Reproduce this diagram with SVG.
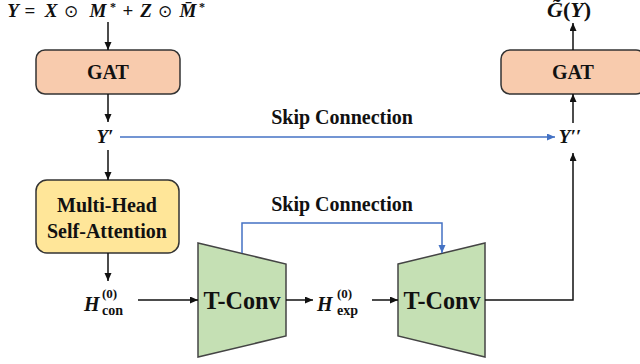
<svg xmlns="http://www.w3.org/2000/svg" width="640" height="364" viewBox="0 0 640 364">
<defs>
<style>
.lbl{font-family:"Liberation Serif","Times New Roman",serif;font-weight:bold;fill:#111;text-anchor:middle}
.math{font-family:"Liberation Serif","DejaVu Serif",serif;font-weight:bold;fill:#111}
.it{font-style:italic}
.op{font-family:"DejaVu Sans",sans-serif;font-weight:normal}
.box{stroke:#333;stroke-width:1.5}
.gat{fill:#F8CBAD}
.mhsa{fill:#FFE699}
.tc{fill:#C5E0B4;stroke:#444;stroke-width:1.5}
.ln{fill:none;stroke:#111;stroke-width:1.5}
.bl{fill:none;stroke:#4472C4;stroke-width:1.5}
</style>
<marker id="ak" markerUnits="userSpaceOnUse" markerWidth="9" markerHeight="8" refX="8" refY="3.5" orient="auto"><path d="M0,0 L8,3.5 L0,7 z" fill="#111"/></marker>
<marker id="ab" markerUnits="userSpaceOnUse" markerWidth="9" markerHeight="8" refX="8" refY="3.5" orient="auto"><path d="M0,0 L8,3.5 L0,7 z" fill="#4472C4"/></marker>
</defs>
<rect width="640" height="364" fill="#fff"/>

<g id="input">
<text class="math" y="17" font-size="19" text-anchor="middle"><tspan class="it" x="13">Y</tspan><tspan x="30">=</tspan><tspan class="it" x="51">X</tspan><tspan class="op" x="71" font-size="17">⊙</tspan><tspan class="it" x="98">M</tspan><tspan x="113" font-size="12" dy="-6">*</tspan><tspan x="128" dy="6">+</tspan><tspan class="it" x="146">Z</tspan><tspan class="op" x="165" font-size="17">⊙</tspan><tspan class="it" x="188">M̄</tspan><tspan x="202" font-size="12" dy="-6">*</tspan></text>
</g>

<g id="gat1">
<rect class="box gat" x="36" y="50" width="144" height="44" rx="9"/>
<text class="lbl" x="108" y="79" font-size="20">GAT</text>
</g>

<g id="yprime">
<text class="math it" x="105" y="143" font-size="19" text-anchor="middle">Y′</text>
</g>

<g id="mhsa">
<rect class="box mhsa" x="36" y="180" width="143" height="73" rx="11"/>
<text class="lbl" x="107" y="212" font-size="20">Multi-Head</text>
<text class="lbl" x="107" y="238" font-size="20">Self-Attention</text>
</g>

<g id="hcon">
<text class="math it" x="84" y="311" font-size="20">H</text>
<text class="math" x="102" y="298" font-size="13">(0)</text>
<text class="math" x="102" y="315" font-size="14">con</text>
</g>

<g id="tconv1">
<polygon class="tc" points="198,243 286,264 286,336 198,357"/>
<text class="lbl" x="242" y="309" font-size="25" textLength="77" lengthAdjust="spacingAndGlyphs">T-Conv</text>
</g>

<g id="hexp">
<text class="math it" x="317" y="311" font-size="20">H</text>
<text class="math" x="337" y="298" font-size="13">(0)</text>
<text class="math" x="337" y="315" font-size="14">exp</text>
</g>

<g id="tconv2">
<polygon class="tc" points="398,264 485,243 485,357 398,336"/>
<text class="lbl" x="442" y="309" font-size="25" textLength="77" lengthAdjust="spacingAndGlyphs">T-Conv</text>
</g>

<g id="ydouble">
<text class="math it" x="570" y="143" font-size="19" text-anchor="middle">Y′′</text>
</g>

<g id="gat2">
<rect class="box gat" x="501" y="50" width="144" height="44" rx="9"/>
<text class="lbl" x="573" y="79" font-size="20">GAT</text>
</g>

<g id="output">
<text class="math" x="569" y="17" font-size="20" text-anchor="middle" textLength="44" lengthAdjust="spacingAndGlyphs"><tspan class="it">G̃</tspan>(<tspan class="it">Y</tspan>)</text>
</g>

<g id="labels">
<text class="lbl" x="342" y="124" font-size="20">Skip Connection</text>
<text class="lbl" x="342" y="211" font-size="20">Skip Connection</text>
</g>

<g id="connectors">
<line class="ln" x1="108" y1="22" x2="108" y2="50" marker-end="url(#ak)"/>
<line class="ln" x1="108" y1="94" x2="108" y2="122" marker-end="url(#ak)"/>
<line class="bl" x1="120" y1="137" x2="555" y2="137" marker-end="url(#ab)"/>
<line class="ln" x1="108" y1="150" x2="108" y2="180" marker-end="url(#ak)"/>
<line class="ln" x1="108" y1="253" x2="108" y2="281" marker-end="url(#ak)"/>
<line class="ln" x1="138" y1="300" x2="198" y2="300" marker-end="url(#ak)"/>
<line class="ln" x1="286" y1="300" x2="313" y2="300" marker-end="url(#ak)"/>
<line class="ln" x1="372" y1="300" x2="398" y2="300" marker-end="url(#ak)"/>
<polyline class="ln" points="485,300 573,300 573,153" marker-end="url(#ak)"/>
<line class="ln" x1="573" y1="123" x2="573" y2="94" marker-end="url(#ak)"/>
<line class="ln" x1="573" y1="50" x2="573" y2="23" marker-end="url(#ak)"/>
<polyline class="bl" points="242,253 242,223 442,223 442,253" marker-end="url(#ab)"/>
</g>
</svg>
